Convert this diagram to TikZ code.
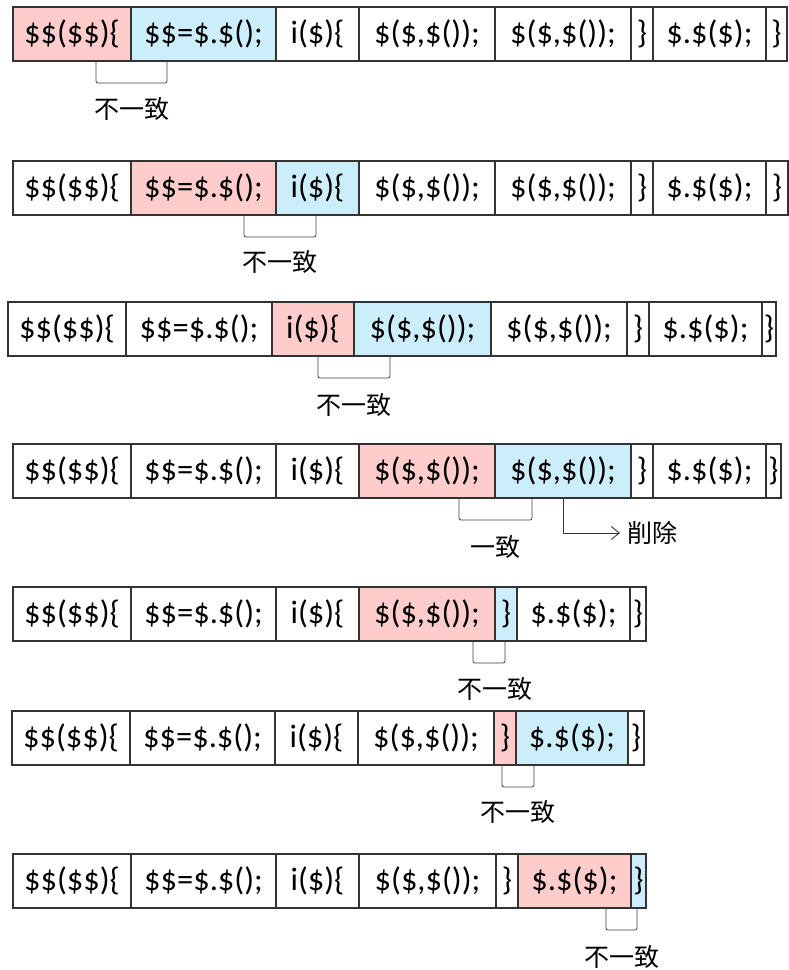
\documentclass[tikz,border=0pt]{standalone}
\usepackage{fontspec}
\setmainfont{Carlito}
\newfontfamily\cjk{Noto Sans CJK SC}
\usetikzlibrary{positioning, arrows.meta}

\definecolor{hitpink}{RGB}{255,204,204}
\definecolor{nextblue}{RGB}{204,238,250}
\newcommand{\codefont}{\fontsize{32.5}{32.5}\selectfont}
\newcommand{\tagfont}{\cjk\fontsize{25}{25}\selectfont}

\tikzstyle{cell} = [rectangle, draw=black!80, line width=1.2pt, minimum height=54pt, inner sep=0pt, outer sep=0pt, text centered, font=\codefont]
\tikzstyle{current} = [cell, fill=hitpink]
\tikzstyle{compared} = [cell, fill=nextblue]
\tikzstyle{bracket} = [draw=black!75, line width=0.8pt, rounded corners=2pt]
\tikzstyle{tag} = [inner sep=0pt, font=\tagfont]
\tikzstyle{arrow} = [draw=black!80, line width=0.9pt, -{Straight Barb[length=8pt, width=13pt]}]

\begin{document}
\begin{tikzpicture}[x=1pt, y=-1pt]
    \useasboundingbox (0,0) rectangle (789,970);

    % Row 1
    \node (r1a) [current, minimum width=118pt, anchor=north west] at (13,7) {\$\$(\$\$)\{};
    \node (r1b) [compared, minimum width=145pt, right=0pt of r1a] {\$\$=\$.\$();};
    \node (r1c) [cell, minimum width=83pt, right=0pt of r1b] {i(\$)\{};
    \node (r1d) [cell, minimum width=136pt, right=0pt of r1c] {\$(\$,\$());};
    \node (r1e) [cell, minimum width=136pt, right=0pt of r1d] {\$(\$,\$());};
    \node (r1f) [cell, minimum width=22pt, right=0pt of r1e] {\}};
    \node (r1g) [cell, minimum width=113pt, right=0pt of r1f] {\$.\$(\$);};
    \node (r1h) [cell, minimum width=21pt, right=0pt of r1g] {\}};
    \draw [bracket] ([xshift=-35pt]r1a.south east) -- ++(0,22) -| node[tag, pos=0.25, yshift=-26pt] {不一致} ([xshift=36pt]r1b.south west);

    % Row 2
    \node (r2a) [cell, minimum width=118pt, anchor=north west] at (13,161) {\$\$(\$\$)\{};
    \node (r2b) [current, minimum width=145pt, right=0pt of r2a] {\$\$=\$.\$();};
    \node (r2c) [compared, minimum width=83pt, right=0pt of r2b] {i(\$)\{};
    \node (r2d) [cell, minimum width=136pt, right=0pt of r2c] {\$(\$,\$());};
    \node (r2e) [cell, minimum width=136pt, right=0pt of r2d] {\$(\$,\$());};
    \node (r2f) [cell, minimum width=22pt, right=0pt of r2e] {\}};
    \node (r2g) [cell, minimum width=113pt, right=0pt of r2f] {\$.\$(\$);};
    \node (r2h) [cell, minimum width=22pt, right=0pt of r2g] {\}};
    \draw [bracket] ([xshift=-32pt]r2b.south east) -- ++(0,22) -| node[tag, pos=0.25, yshift=-25pt] {不一致} ([xshift=40pt]r2c.south west);

    % Row 3
    \node (r3a) [cell, minimum width=118pt, anchor=north west] at (8,302) {\$\$(\$\$)\{};
    \node (r3b) [cell, minimum width=146pt, right=0pt of r3a] {\$\$=\$.\$();};
    \node (r3c) [current, minimum width=82pt, right=0pt of r3b] {i(\$)\{};
    \node (r3d) [compared, minimum width=137pt, right=0pt of r3c] {\$(\$,\$());};
    \node (r3e) [cell, minimum width=136pt, right=0pt of r3d] {\$(\$,\$());};
    \node (r3f) [cell, minimum width=22pt, right=0pt of r3e] {\}};
    \node (r3g) [cell, minimum width=113pt, right=0pt of r3f] {\$.\$(\$);};
    \node (r3h) [cell, minimum width=14pt, right=0pt of r3g] {\}};
    \draw [bracket] ([xshift=-36pt]r3c.south east) -- ++(0,22) -| node[tag, pos=0.25, yshift=-27pt] {不一致} ([xshift=36pt]r3d.south west);

    % Row 4
    \node (r4a) [cell, minimum width=118pt, anchor=north west] at (13,444) {\$\$(\$\$)\{};
    \node (r4b) [cell, minimum width=145pt, right=0pt of r4a] {\$\$=\$.\$();};
    \node (r4c) [cell, minimum width=83pt, right=0pt of r4b] {i(\$)\{};
    \node (r4d) [current, minimum width=136pt, right=0pt of r4c] {\$(\$,\$());};
    \node (r4e) [compared, minimum width=136pt, right=0pt of r4d] {\$(\$,\$());};
    \node (r4f) [cell, minimum width=22pt, right=0pt of r4e] {\}};
    \node (r4g) [cell, minimum width=113pt, right=0pt of r4f] {\$.\$(\$);};
    \node (r4h) [cell, minimum width=15pt, right=0pt of r4g] {\}};
    \draw [bracket] ([xshift=-36pt]r4d.south east) -- ++(0,22) -| node[tag, pos=0.25, yshift=-27pt] {一致} ([xshift=37pt]r4e.south west);
    \node (r4del) [tag, anchor=west, inner xsep=7pt] at (620,533) {削除};
    \draw [arrow] (r4e.south) |- (r4del.west);

    % Row 5
    \node (r5a) [cell, minimum width=118pt, anchor=north west] at (13,587) {\$\$(\$\$)\{};
    \node (r5b) [cell, minimum width=145pt, right=0pt of r5a] {\$\$=\$.\$();};
    \node (r5c) [cell, minimum width=83pt, right=0pt of r5b] {i(\$)\{};
    \node (r5d) [current, minimum width=136pt, right=0pt of r5c] {\$(\$,\$());};
    \node (r5e) [compared, minimum width=22pt, right=0pt of r5d] {\}};
    \node (r5f) [cell, minimum width=113pt, right=0pt of r5e] {\$.\$(\$);};
    \node (r5g) [cell, minimum width=16pt, right=0pt of r5f] {\}};
    \draw [bracket] ([xshift=-22pt]r5d.south east) -- ++(0,22) -| node[tag, pos=0.25, xshift=6pt, yshift=-26pt] {不一致} ([xshift=10pt]r5e.south west);

    % Row 6
    \node (r6a) [cell, minimum width=118pt, anchor=north west] at (12,711) {\$\$(\$\$)\{};
    \node (r6b) [cell, minimum width=145pt, right=0pt of r6a] {\$\$=\$.\$();};
    \node (r6c) [cell, minimum width=83pt, right=0pt of r6b] {i(\$)\{};
    \node (r6d) [cell, minimum width=136pt, right=0pt of r6c] {\$(\$,\$());};
    \node (r6e) [current, minimum width=22pt, right=0pt of r6d] {\}};
    \node (r6f) [compared, minimum width=112pt, right=0pt of r6e] {\$.\$(\$);};
    \node (r6g) [cell, minimum width=16pt, right=0pt of r6f] {\}};
    \draw [bracket] ([xshift=-14pt]r6e.south east) -- ++(0,22) -| node[tag, pos=0.25, yshift=-25pt] {不一致} ([xshift=18pt]r6f.south west);

    % Row 7
    \node (r7a) [cell, minimum width=118pt, anchor=north west] at (13,854) {\$\$(\$\$)\{};
    \node (r7b) [cell, minimum width=145pt, right=0pt of r7a] {\$\$=\$.\$();};
    \node (r7c) [cell, minimum width=83pt, right=0pt of r7b] {i(\$)\{};
    \node (r7d) [cell, minimum width=137pt, right=0pt of r7c] {\$(\$,\$());};
    \node (r7e) [cell, minimum width=22pt, right=0pt of r7d] {\}};
    \node (r7f) [current, minimum width=113pt, right=0pt of r7e] {\$.\$(\$);};
    \node (r7g) [compared, minimum width=15pt, right=0pt of r7f] {\}};
    \draw [bracket] ([xshift=-25pt]r7f.south east) -- ++(0,22) -| node[tag, pos=0.25, yshift=-27pt] {不一致} ([xshift=6pt]r7g.south west);
\end{tikzpicture}
\end{document}
